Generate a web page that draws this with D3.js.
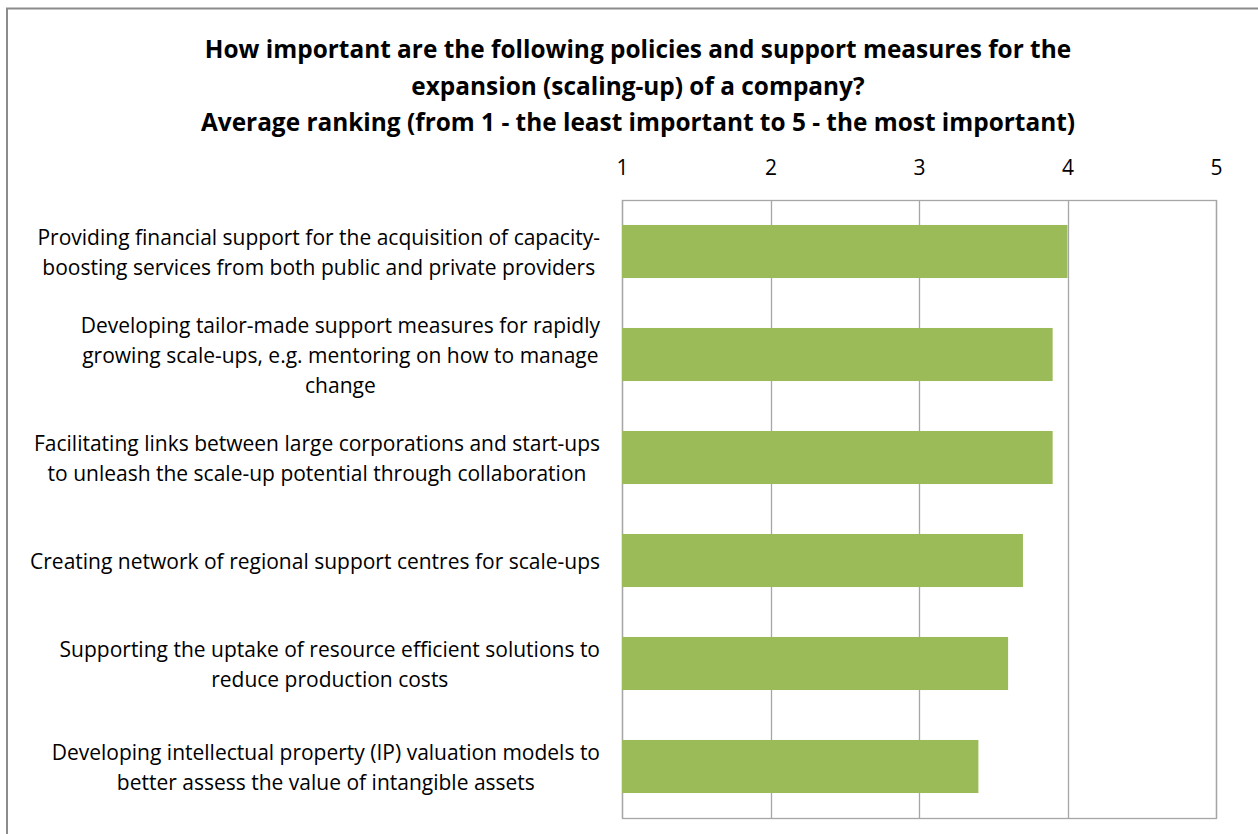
<!DOCTYPE html>
<html>
<head>
<meta charset="utf-8">
<script src="https://cdn.jsdelivr.net/npm/d3@7"></script>
<style>
  html, body { margin: 0; padding: 0; background: #fff; }
  svg { display: block; }
  text { font-family: "Open Sans", "Noto Sans", sans-serif; fill: #000; }
</style>
</head>
<body>
<svg id="chart" width="1258" height="834"></svg>
<script>
// Survey measures (top to bottom) with their average ranking
const categories = [
  ["Providing financial support for the acquisition of capacity-", "boosting services from both public and private providers"],
  ["Developing tailor-made support measures for rapidly", "growing scale-ups, e.g. mentoring on how to manage", "change"],
  ["Facilitating links between large corporations and start-ups", "to unleash the scale-up potential through collaboration"],
  ["Creating network of regional support centres for scale-ups"],
  ["Supporting the uptake of resource efficient solutions to", "reduce production costs"],
  ["Developing intellectual property (IP) valuation models to", "better assess the value of intangible assets"]
];
const averageRanking = [4.0, 3.9, 3.9, 3.7, 3.6, 3.4];
const tickValues = [1, 2, 3, 4, 5];
const titleLines = [
  "How important are the following policies and support measures for the",
  "expansion (scaling-up) of a company?",
  "Average ranking (from 1 - the least important to 5 - the most important)"
];

const svg = d3.select("#chart");
const W = 1258, H = 834;
const plot = { left: 622, right: 1216, top: 200, bottom: 818 };

// Outer chart frame (only left and top edges fall inside the view)
svg.append("path")
  .attr("d", `M7,${H} L7,8.5 L${W},8.5`)
  .attr("fill", "none")
  .attr("stroke", "#8c8c8c")
  .attr("stroke-width", 2);

// Title
svg.append("g").selectAll("text")
  .data(titleLines)
  .join("text")
  .attr("x", 638)
  .attr("y", (d, i) => 58 + i * 36.5)
  .attr("text-anchor", "middle")
  .attr("font-size", 24.4)
  .attr("font-weight", "bold")
  .text(d => d);

const x = d3.scaleLinear().domain([1, 5]).range([plot.left, plot.right]);
const y = d3.scaleBand()
  .domain(d3.range(categories.length))
  .range([plot.top, plot.bottom])
  .paddingInner(0.485)
  .paddingOuter(0.2425);

// Vertical gridlines
svg.append("g").selectAll("line")
  .data(tickValues)
  .join("line")
  .attr("x1", d => Math.round(x(d)) + 0.5)
  .attr("x2", d => Math.round(x(d)) + 0.5)
  .attr("y1", plot.top)
  .attr("y2", plot.bottom)
  .attr("stroke", "#a6a6a6")
  .attr("stroke-width", 1.3);

// Plot area border
svg.append("rect")
  .attr("x", plot.left + 0.5)
  .attr("y", plot.top + 0.5)
  .attr("width", plot.right - plot.left)
  .attr("height", plot.bottom - plot.top)
  .attr("fill", "none")
  .attr("stroke", "#a6a6a6")
  .attr("stroke-width", 1.3);

// Bars
svg.append("g").selectAll("rect")
  .data(averageRanking)
  .join("rect")
  .attr("x", x(1))
  .attr("y", (d, i) => y(i))
  .attr("width", d => x(d) - x(1))
  .attr("height", y.bandwidth())
  .attr("fill", "#9bbb59");

// Top value axis
const axis = d3.axisTop(x).tickValues(tickValues).tickSize(0).tickPadding(0).tickFormat(d3.format("d"));
const ax = svg.append("g").attr("transform", `translate(0,${175})`).call(axis);
ax.select(".domain").remove();
ax.selectAll("text")
  .attr("font-size", 21)
  .attr("font-family", "'Open Sans', 'Noto Sans', sans-serif")
  .attr("fill", "#000");

// Category labels: lines centred within a block whose right edge sits left of the plot
const labelRight = 600;
const lineH = 30;
const fs = 21;
const lg = svg.append("g");
categories.forEach((lines, i) => {
  const cy = y(i) + y.bandwidth() / 2;
  const g = lg.append("g");
  const texts = g.selectAll("text")
    .data(lines)
    .join("text")
    .attr("font-size", fs)
    .attr("text-anchor", "middle")
    .attr("dominant-baseline", "central")
    .attr("y", (d, j) => cy + (j - (lines.length - 1) / 2) * lineH)
    .text(d => d);
  let maxW = 0;
  texts.each(function () { maxW = Math.max(maxW, this.getComputedTextLength()); });
  texts.attr("x", labelRight - maxW / 2);
});
</script>
</body>
</html>
